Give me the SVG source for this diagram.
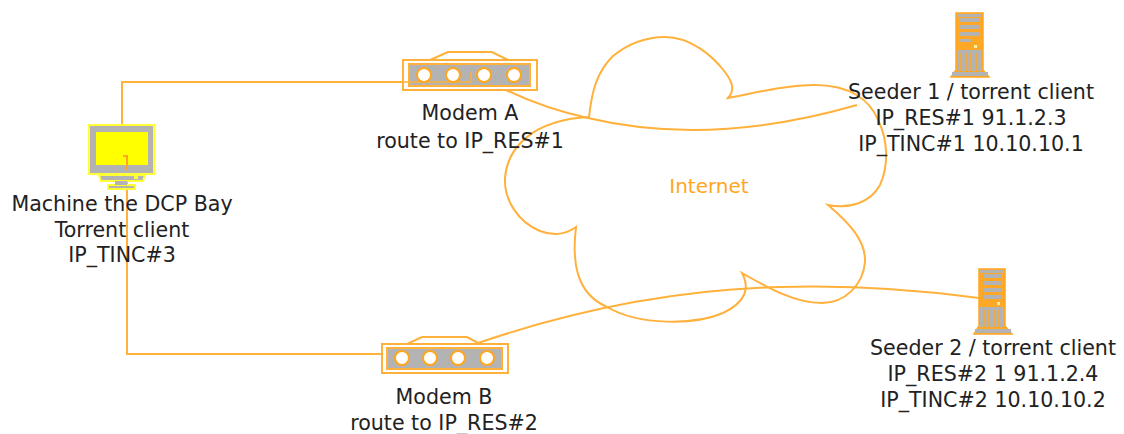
<svg xmlns="http://www.w3.org/2000/svg" width="1124" height="434" viewBox="0 0 1124 434">
<style>
text{font-family:"DejaVu Sans",sans-serif;font-size:20.6px;fill:#222;text-anchor:middle}
.ln{fill:none;stroke:#ffb13b;stroke-width:2}
.gr{fill:#b3b3b3;stroke:#ffb13b;stroke-width:2}
.pt{fill:#fff;stroke:#ffa61f;stroke-width:2}
.yb{fill:#b3b3b3;stroke:#ffff33;stroke-width:2}
.srv{fill:#ffa726;stroke:#ffa726;stroke-width:1.5}
.sl{fill:#b3b3b3}
.vl{stroke:#ffa726;stroke-width:1.5;fill:none}
</style>
<rect width="1124" height="434" fill="#fff"/>
<g id="cloud">
<path class="ln" d="M589 117C592 90 597 72 613 56C628 44 645 37 665 37C690 37 712 55 725 72C733 83 735 90 728 98C755 93 785 85 815 85C850 85 870 100 878 120C888 140 889 165 880 185C870 203 850 209 828 205C848 222 866 240 865 262C863 285 845 303 822 303C795 303 768 288 742 273C750 288 746 302 723 313C695 325 640 326 607 307C575 293 572 260 576 227C565 235 553 236 540 231C518 222 504 200 505 178C507 150 530 120 589 117Z"/>
<text x="709" y="193" style="fill:#ffa61f;font-size:20px">Internet</text>
</g>
<g id="connectors">
<path class="ln" d="M122 124V82H402"/>
<path class="ln" d="M127 157V354H382"/>
<path class="ln" d="M506 90C535 104 560 112 588 118C680 140 770 130 857 105"/>
<path class="ln" d="M478 343C560 315 660 290 780 287C850 285 920 290 979 298"/>
</g>
<g id="machine">
<rect class="yb" x="89" y="125" width="65" height="49"/>
<rect x="96" y="132" width="52" height="33" fill="#ffff00"/>
<path class="yb" d="M99 175H145L143 181H101Z" stroke-width="1"/>
<rect class="yb" x="108" y="185" width="27" height="4" stroke-width="1"/>
<rect x="115" y="181" width="12" height="4" fill="#b3b3b3"/>
<rect x="134" y="176" width="4" height="3" fill="#ffff33"/>
<path d="M123 156H127V170" fill="none" stroke="#ffa61f" stroke-width="2"/>
<text x="122" y="211">Machine the DCP Bay</text>
<text x="122" y="237">Torrent client</text>
<text x="122" y="262">IP_TINC#3</text>
</g>
<g id="modemA">
<path class="ln" d="M430 60L448 52H492L508 60"/>
<rect class="ln" x="403" y="60" width="134" height="30"/>
<rect class="gr" x="409" y="64" width="121" height="22"/>
<path d="M402 82H471V72" fill="none" stroke="#ffb13b" stroke-width="1.5"/>
<circle class="pt" cx="424" cy="75" r="7"/>
<circle class="pt" cx="453" cy="75" r="7"/>
<circle class="pt" cx="484" cy="75" r="7"/>
<circle class="pt" cx="514" cy="75" r="7"/>
<text x="470" y="120">Modem A</text>
<text x="470" y="148">route to IP_RES#1</text>
</g>
<g id="modemB">
<path class="ln" d="M407 344L422 337H467L480 344"/>
<rect class="ln" x="382" y="344" width="126" height="29"/>
<rect class="gr" x="387" y="348" width="115" height="21"/>
<circle class="pt" cx="402" cy="358" r="7"/>
<circle class="pt" cx="430" cy="358" r="7"/>
<circle class="pt" cx="458" cy="358" r="7"/>
<circle class="pt" cx="487" cy="358" r="7"/>
<text x="444" y="404">Modem B</text>
<text x="444" y="430">route to IP_RES#2</text>
</g>
<g id="seeder1">
<path class="srv" d="M956 13H983V70L989 77H951L956 70Z"/>
<rect x="957" y="14" width="25" height="3" fill="#b3b3b3"/>
<g class="sl"><rect x="960" y="18" width="19" height="4"/><rect x="960" y="25" width="19" height="4"/><rect x="960" y="32" width="19" height="4"/><rect x="960" y="39" width="12" height="3"/></g>
<rect x="957" y="50" width="25" height="21" fill="#b3b3b3"/>
<rect x="952" y="72" width="36" height="4" fill="#b3b3b3"/>
<path class="vl" d="M961 53V71M966 53V71M971 53V71M976 53V71"/>
<rect x="974" y="45" width="3" height="3" fill="#fff2a0"/>
<text x="971" y="99">Seeder 1 / torrent client</text>
<text x="971" y="125">IP_RES#1 91.1.2.3</text>
<text x="971" y="151">IP_TINC#1 10.10.10.1</text>
</g>
<g id="seeder2">
<path class="srv" d="M979 269H1005V326L1012 334H974L979 326Z"/>
<rect x="980" y="270" width="24" height="3" fill="#b3b3b3"/>
<g class="sl"><rect x="983" y="274" width="19" height="4"/><rect x="983" y="281" width="19" height="4"/><rect x="983" y="288" width="19" height="4"/><rect x="983" y="295" width="19" height="4"/></g>
<rect x="980" y="307" width="24" height="20" fill="#b3b3b3"/>
<rect x="975" y="329" width="36" height="4" fill="#b3b3b3"/>
<path class="vl" d="M984 310V328M989 310V328M994 310V328M999 310V328"/>
<rect x="997" y="302" width="3" height="3" fill="#fff2a0"/>
<text x="993" y="355">Seeder 2 / torrent client</text>
<text x="993" y="381">IP_RES#2 1 91.1.2.4</text>
<text x="993" y="407">IP_TINC#2 10.10.10.2</text>
</g>
</svg>
